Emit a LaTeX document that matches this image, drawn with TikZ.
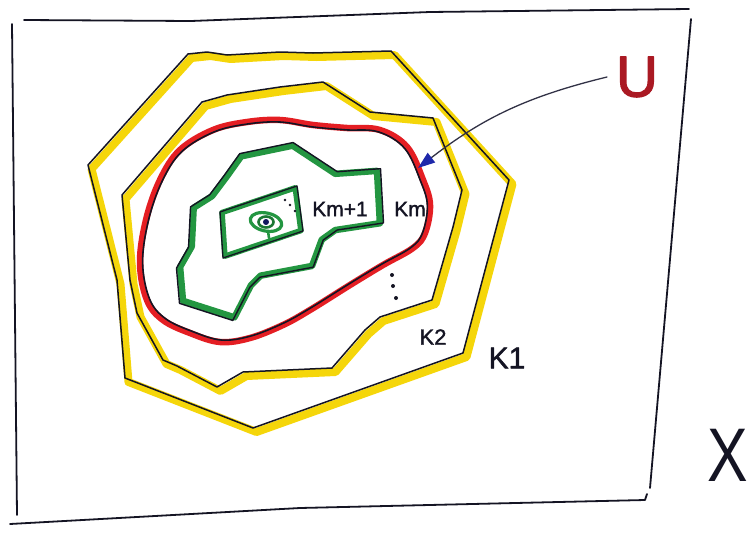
\documentclass[tikz,border=0pt]{standalone}
\usepackage{fontspec}
\setmainfont{Liberation Sans}
\usetikzlibrary{arrows.meta}
\definecolor{hlyellow}{RGB}{245,214,10}
\definecolor{ured}{RGB}{228,30,35}
\definecolor{kgreen}{RGB}{35,150,65}
\definecolor{inkblack}{RGB}{20,20,35}
\definecolor{udark}{RGB}{170,25,35}
\definecolor{arrowblue}{RGB}{30,40,170}
\definecolor{arrowgray}{RGB}{50,50,70}
\def\KonePath{(188,54) -- (207,52) -- (227,55) -- (280,52) -- (313,53) -- (391,51) -- (509,180) -- (463,353) -- (253,428) -- (125,378) -- (117,280) -- (88,165) -- cycle}
\def\KtwoPath{(202,102) -- (227,95) -- (280,87) -- (323,82) -- (370,112) -- (433,118) -- (462,190) -- (453,227) -- (432,300) -- (380,317) -- (365,330) -- (332,368) -- (243,372) -- (217,387) -- (177,366) -- (163,360) -- (137,313) -- (130,280) -- (122,195) -- cycle}
\def\UPath{plot[smooth cycle, tension=0.6] coordinates {(140,263) (146,220) (160,180) (180,150) (213,130) (247,122) (280,120) (313,125) (347,128) (380,130) (407,147) (423,180) (430,205) (425,233) (413,248) (383,265) (350,285) (310,310) (283,325) (250,338) (220,342) (190,333) (163,320) (147,300)}}
\def\KmPath{(240,154) -- (293,143) -- (337,172) -- (380,169) -- (383,223) -- (337,230) -- (323,240) -- (313,267) -- (260,277) -- (250,287) -- (233,320) -- (180,303) -- (177,268) -- (189,247) -- (191,207) -- (210,195) -- (225,175) -- cycle}
\def\KmoPath{(220,212) -- (297,186) -- (303,231) -- (223,258) -- cycle}
\begin{document}
\begin{tikzpicture}[x=1pt,y=-1pt, line join=round, line cap=round,
  frameline/.style={inkblack,line width=1.8pt},
  hl/.style={hlyellow,line width=8pt},
  ink/.style={inkblack,line width=1.5pt},
  redline/.style={ured,line width=6.5pt},
  greenline/.style={kgreen,line width=6.5pt},
  dotmark/.style={inkblack},
  lbl/.style={inkblack,inner sep=0pt}]
\useasboundingbox (0,0) rectangle (750,533);
\fill[white] (0,0) rectangle (750,533);
% frame
\coordinate (ftl) at (24,20);
\coordinate (ftm) at (191,21);
\coordinate (ftr) at (430,12);
\coordinate (ftrr) at (689,9);
\draw[frameline] (ftl) -- (ftm) -- (ftr) -- (ftrr);
\coordinate (fl1) at (12,24);
\coordinate (fl2) at (17,515);
\draw[frameline] (fl1) -- (fl2);
\coordinate (fr1) at (691,19);
\coordinate (fr2) at (650,488);
\draw[frameline] (fr1) -- (fr2);
\coordinate (fb1) at (10,524);
\coordinate (fb2) at (300,508);
\coordinate (fb3) at (645,500);
\coordinate (fb4) at (647,494);
\draw[frameline] (fb1) -- (fb2) -- (fb3) -- (fb4);
% K1
\draw[hl, shift={(3.5,4)}] \KonePath;
\draw[ink] \KonePath;
% K2
\draw[hl, shift={(3.5,4)}] \KtwoPath;
\draw[ink] \KtwoPath;
% U
\draw[redline] \UPath;
\draw[ink, line width=1.6pt, scale around={0.982:(285,232)}] \UPath;
% K_m
\draw[greenline, scale around={0.97:(280,232)}] \KmPath;
\draw[ink, line width=1.4pt, scale around={1.005:(280,232)}] \KmPath;
% K_{m+1}
\draw[greenline, line width=5.5pt, scale around={0.95:(261,222)}] \KmoPath;
\draw[ink, line width=1.3pt] \KmoPath;
% inner swirl
\draw[kgreen, line width=3.2pt, rotate around={-12:(266,222)}] (266,222) ellipse [x radius=16, y radius=9];
\draw[kgreen!80!black, line width=2.6pt] (266,222) ellipse [x radius=7.5, y radius=5.5];
\fill[arrowblue!55!black] (266,222) circle (3);
\draw[kgreen, line width=2.6pt] (268,231) -- (269,238);
% dots
\fill[dotmark] (285,200) circle (1.3);
\fill[dotmark] (290,205) circle (1.3);
\fill[dotmark] (295,211) circle (1.3);
\fill[dotmark] (392,275) circle (2);
\fill[dotmark] (393,286) circle (2);
\fill[dotmark] (396,298) circle (2);
% labels
\node[lbl, font=\fontsize{21}{21}\selectfont\addfontfeature{FakeBold=1.5}] (lkm1) at (340,209) {Km+1};
\node[lbl, font=\fontsize{21}{21}\selectfont\addfontfeature{FakeBold=1.5}] (lkm) at (410,209) {Km};
\node[lbl, font=\fontsize{22}{22}\selectfont\addfontfeature{FakeBold=1.5}] (lk2) at (433,337) {K2};
\node[lbl, font=\fontsize{30}{30}\selectfont\addfontfeature{FakeBold=1.5}] (lk1) at (507,358) {K1};
\node[lbl, text=udark, font=\fontsize{58}{58}\selectfont\addfontfeature{FakeBold=2}] (lu) at (637,77) {U};
\node[lbl, xscale=0.8, font=\fontsize{76}{76}\selectfont] (lx) at (728,455) {X};
% arrow
\coordinate (ustart) at (607,77);
\coordinate (utip) at (418,168);
\draw[arrowgray, line width=1.3pt, -{Triangle[length=17pt,width=12pt,color=arrowblue]}] (ustart) to[bend right=12] (utip);
\end{tikzpicture}
\end{document}
